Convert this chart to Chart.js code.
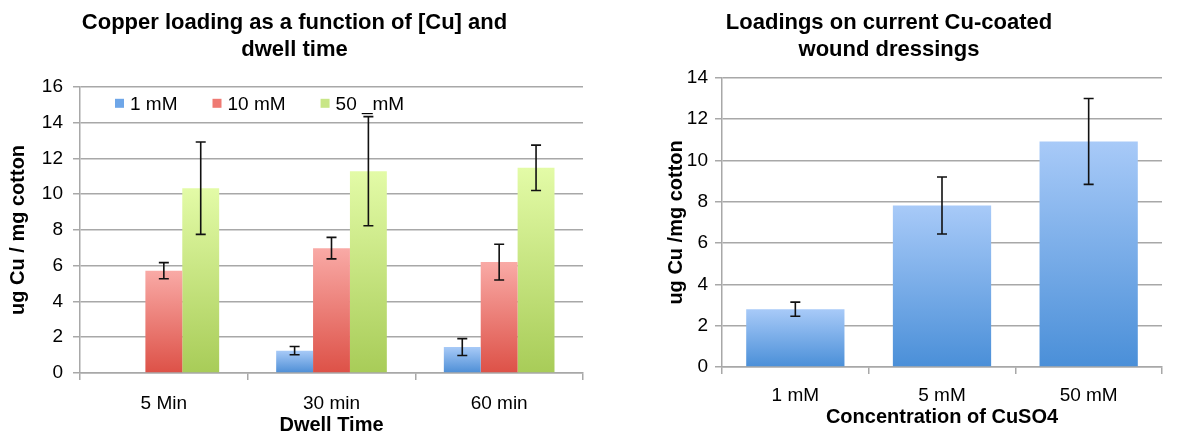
<!DOCTYPE html>
<html>
<head>
<meta charset="utf-8">
<script src="https://cdn.jsdelivr.net/npm/chart.js@4/dist/chart.umd.min.js"></script>
<style>
  body { margin: 0; background: #fff; }
  .box { position: absolute; top: 0; }
</style>
</head>
<body>
<div class="box" style="left:0"><canvas id="left" width="590" height="437"></canvas></div>
<div class="box" style="left:590px"><canvas id="right" width="589" height="437"></canvas></div>
<script>
// Left chart: loading vs dwell time
const dwellTimes = ['5 Min', '30 min', '60 min'];
const load1mM = [null, 1.25, 1.45];
const err1mM = [null, 0.23, 0.47];
const load10mM = [5.72, 6.98, 6.2];
const err10mM = [0.45, 0.6, 1.0];
const load50mM = [10.33, 11.28, 11.47];
const err50mM = [2.58, 3.05, 1.27];

// Right chart: current dressings
const concentrations = ['1 mM', '5 mM', '50 mM'];
const dressingLoad = [2.8, 7.82, 10.92];
const dressingErr = [0.34, 1.38, 2.08];

const gridGrey = '#a8a8a8';
Chart.defaults.font.family = '"Liberation Sans", Arial, sans-serif';
Chart.defaults.color = '#000';

// vertical gradient for each bar, light at the top
function barGradient(top, bottom) {
  return function (ctx) {
    if (ctx.type !== 'data') return bottom;
    const chart = ctx.chart;
    const v = ctx.dataset.data[ctx.dataIndex];
    if (!chart.chartArea || v == null) return bottom;
    const y = chart.scales.y;
    const g = chart.ctx.createLinearGradient(0, y.getPixelForValue(v), 0, y.getPixelForValue(0));
    g.addColorStop(0, top);
    g.addColorStop(1, bottom);
    return g;
  };
}

// error bars from dataset.errors
const errorBars = {
  id: 'errorBars',
  afterDatasetsDraw(chart) {
    const ctx = chart.ctx;
    const y = chart.scales.y;
    ctx.save();
    ctx.strokeStyle = '#111';
    ctx.lineWidth = 1.6;
    chart.data.datasets.forEach((ds, i) => {
      const meta = chart.getDatasetMeta(i);
      meta.data.forEach((bar, j) => {
        const v = ds.data[j], e = ds.errors[j];
        if (v == null || e == null) return;
        const hi = y.getPixelForValue(v + e), lo = y.getPixelForValue(v - e);
        ctx.beginPath();
        ctx.moveTo(bar.x, hi); ctx.lineTo(bar.x, lo);
        ctx.moveTo(bar.x - 5, hi); ctx.lineTo(bar.x + 5, hi);
        ctx.moveTo(bar.x - 5, lo); ctx.lineTo(bar.x + 5, lo);
        ctx.stroke();
      });
    });
    ctx.restore();
  }
};

// legend sitting inside the plot, like the spreadsheet one
const insideLegend = {
  id: 'insideLegend',
  afterDraw(chart, args, opts) {
    if (!opts.show) return;
    const ctx = chart.ctx;
    const area = chart.chartArea;
    let x = area.left + 35;
    const yMid = area.top + 17;
    ctx.save();
    ctx.font = '19px "Liberation Sans", Arial, sans-serif';
    ctx.textBaseline = 'middle';
    chart.data.datasets.forEach(ds => {
      ctx.fillStyle = ds.legendColor;
      ctx.fillRect(x, yMid - 5, 9, 9);
      ctx.fillStyle = '#000';
      ctx.fillText(ds.label, x + 15, yMid + 1);
      x += 15 + ctx.measureText(ds.label).width + 35;
    });
    ctx.restore();
  }
};

// nudge the title block sideways
const titleShift = {
  id: 'titleShift',
  afterLayout(chart, args, opts) {
    if (!opts.dx) return;
    const t = chart.titleBlock;
    t.left += opts.dx;
    t.right += opts.dx;
  }
};

function yAxis(max, width, titleText, titlePad, tickPad) {
  return {
    min: 0, max: max,
    ticks: { stepSize: 2, font: { size: 19 }, padding: tickPad },
    grid: { color: gridGrey, lineWidth: 1.5, tickLength: 7 },
    border: { color: gridGrey, width: 1.5 },
    title: { display: true, text: titleText, font: { size: 20, weight: 'bold' }, padding: { top: titlePad, bottom: 0 } },
    afterFit(scale) { scale.width = width; }
  };
}

function xAxis(height, titleText, tickPad, titlePadBottom) {
  return {
    ticks: { font: { size: 19 }, padding: tickPad },
    grid: { drawOnChartArea: false, offset: true, color: gridGrey, lineWidth: 1.5, tickLength: 7 },
    border: { color: gridGrey, width: 1.5 },
    title: { display: true, text: titleText, font: { size: 20, weight: 'bold' }, padding: { top: 0, bottom: titlePadBottom } },
    afterFit(scale) { scale.height = height; }
  };
}

new Chart('left', {
  type: 'bar',
  data: {
    labels: dwellTimes,
    datasets: [
      { label: '1 mM', data: load1mM, errors: err1mM, backgroundColor: barGradient('#a8caf7', '#4d8ed6'), legendColor: '#6ea6e8' },
      { label: '10 mM', data: load10mM, errors: err10mM, backgroundColor: barGradient('#f9aaa6', '#dd5147'), legendColor: '#ef7a73' },
      { label: '50 _mM', data: load50mM, errors: err50mM, backgroundColor: barGradient('#e3fba7', '#a8cc58'), legendColor: '#c8e687' }
    ]
  },
  options: {
    responsive: false,
    animation: false,
    categoryPercentage: 0.66,
    barPercentage: 1.0,
    layout: { padding: { left: 0, right: 7, top: 0, bottom: 0 } },
    scales: {
      x: xAxis(64, 'Dwell Time', 12, 0),
      y: yAxis(16, 80, 'ug Cu / mg cotton', 6, 10)
    },
    plugins: {
      legend: { display: false },
      tooltip: { enabled: false },
      title: {
        display: true,
        text: ['Copper loading as a function of [Cu] and', 'dwell time'],
        font: { size: 22, weight: 'bold' },
        color: '#000',
        padding: { top: 10, bottom: 24 }
      },
      titleShift: { dx: 3 },
      insideLegend: { show: true }
    }
  },
  plugins: [errorBars, insideLegend, titleShift]
});

new Chart('right', {
  type: 'bar',
  data: {
    labels: concentrations,
    datasets: [
      { label: 'Loading', data: dressingLoad, errors: dressingErr, backgroundColor: barGradient('#a8caf8', '#4a8fd8'), legendColor: '#6ea6e8' }
    ]
  },
  options: {
    responsive: false,
    animation: false,
    categoryPercentage: 0.67,
    barPercentage: 1.0,
    layout: { padding: { left: 0, right: 17, top: 0, bottom: 0 } },
    scales: {
      x: xAxis(70, 'Concentration of CuSO4', 10, 8),
      y: yAxis(14, 132, 'ug Cu /mg cotton', 74, 7)
    },
    plugins: {
      legend: { display: false },
      tooltip: { enabled: false },
      title: {
        display: true,
        text: ['Loadings on current Cu-coated', 'wound dressings'],
        font: { size: 22, weight: 'bold' },
        color: '#000',
        padding: { top: 10, bottom: 15 }
      },
      titleShift: { dx: 13 },
      insideLegend: { show: false }
    }
  },
  plugins: [errorBars, insideLegend, titleShift]
});
</script>
</body>
</html>
